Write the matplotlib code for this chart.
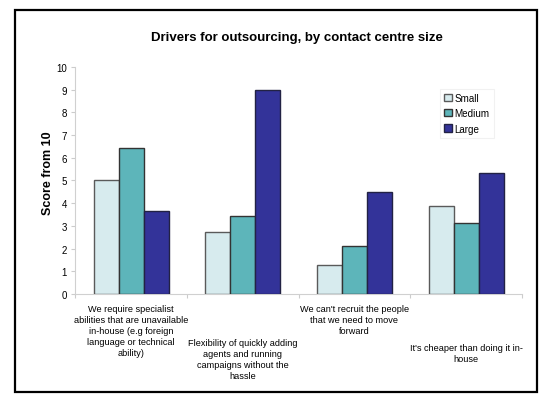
import matplotlib.pyplot as plt
import numpy as np
from matplotlib.patches import Rectangle
from matplotlib.transforms import blended_transform_factory

plt.rcParams['font.family'] = ['Liberation Sans', 'DejaVu Sans']

# data
drivers = ["We require specialist\nabilities that are unavailable\nin-house (e.g foreign\nlanguage or technical\nability)",
           "Flexibility of quickly adding\nagents and running\ncampaigns without the\nhassle",
           "We can't recruit the people\nthat we need to move\nforward",
           "It's cheaper than doing it in-\nhouse"]
small = [5.0, 2.72, 1.28, 3.88]
medium = [6.43, 3.45, 2.14, 3.12]
large = [3.67, 9.0, 4.5, 5.34]
series_names = ["Small", "Medium", "Large"]
colors = ["#D7EBEE", "#5DB5BA", "#333399"]
edges = ["#5a5a5a", "#333333", "#222244"]

fig = plt.figure(figsize=(5.5, 4.06), dpi=100)
ax = fig.add_axes([0.137, 0.273, 0.812, 0.560])

x = np.arange(len(drivers))
w = 0.224
for i, (vals, name) in enumerate(zip([small, medium, large], series_names)):
    ax.bar(x + (i - 1) * w, vals, w, color=colors[i], edgecolor=edges[i],
           linewidth=1.0, label=name, zorder=3)

ax.set_xlim(-0.5, len(drivers) - 0.5)
ax.set_ylim(0, 10)
ax.set_yticks(range(0, 11))
ax.tick_params(axis='y', labelsize=7, length=3, color='#cccccc', pad=3)
ax.set_xticks(np.arange(-0.5, len(drivers)), minor=False)
ax.set_xticklabels([])
ax.tick_params(axis='x', length=3, color='#cccccc', direction='out')
for s in ['top', 'right']:
    ax.spines[s].set_visible(False)
for s in ['left', 'bottom']:
    ax.spines[s].set_color('#d0d0d0')
    ax.spines[s].set_linewidth(0.8)

ax.set_ylabel("Score from 10", fontsize=9, fontweight='bold')
ax.yaxis.set_label_coords(-0.048, 0.535)

# category labels, staggered like the original
trans = blended_transform_factory(ax.transData, ax.transAxes)
offsets = [-0.045, -0.195, -0.045, -0.215]
for xi, lab, off in zip(x, drivers, offsets):
    ax.text(xi, off, lab, transform=trans, ha='center', va='top',
            fontsize=6.6, linespacing=1.27)

fig.text(0.54, 0.907, "Drivers for outsourcing, by contact centre size",
         ha='center', va='center', fontsize=9.5, fontweight='bold')

leg = ax.legend(loc='upper left', bbox_to_anchor=(0.805, 0.925), fontsize=7.1,
                frameon=True, fancybox=False, handlelength=0.8, handleheight=0.8,
                handletextpad=0.3, borderpad=0.4, labelspacing=0.55)
leg.get_frame().set_edgecolor('#eeeeee')
leg.get_frame().set_linewidth(0.8)

# outer chart border
fig.patches.append(Rectangle((15 / 550, 1 - 393 / 406), 522 / 550, 382 / 406,
                             transform=fig.transFigure, fill=False,
                             edgecolor='black', linewidth=1.6))

fig.savefig("out.png", dpi=100)
